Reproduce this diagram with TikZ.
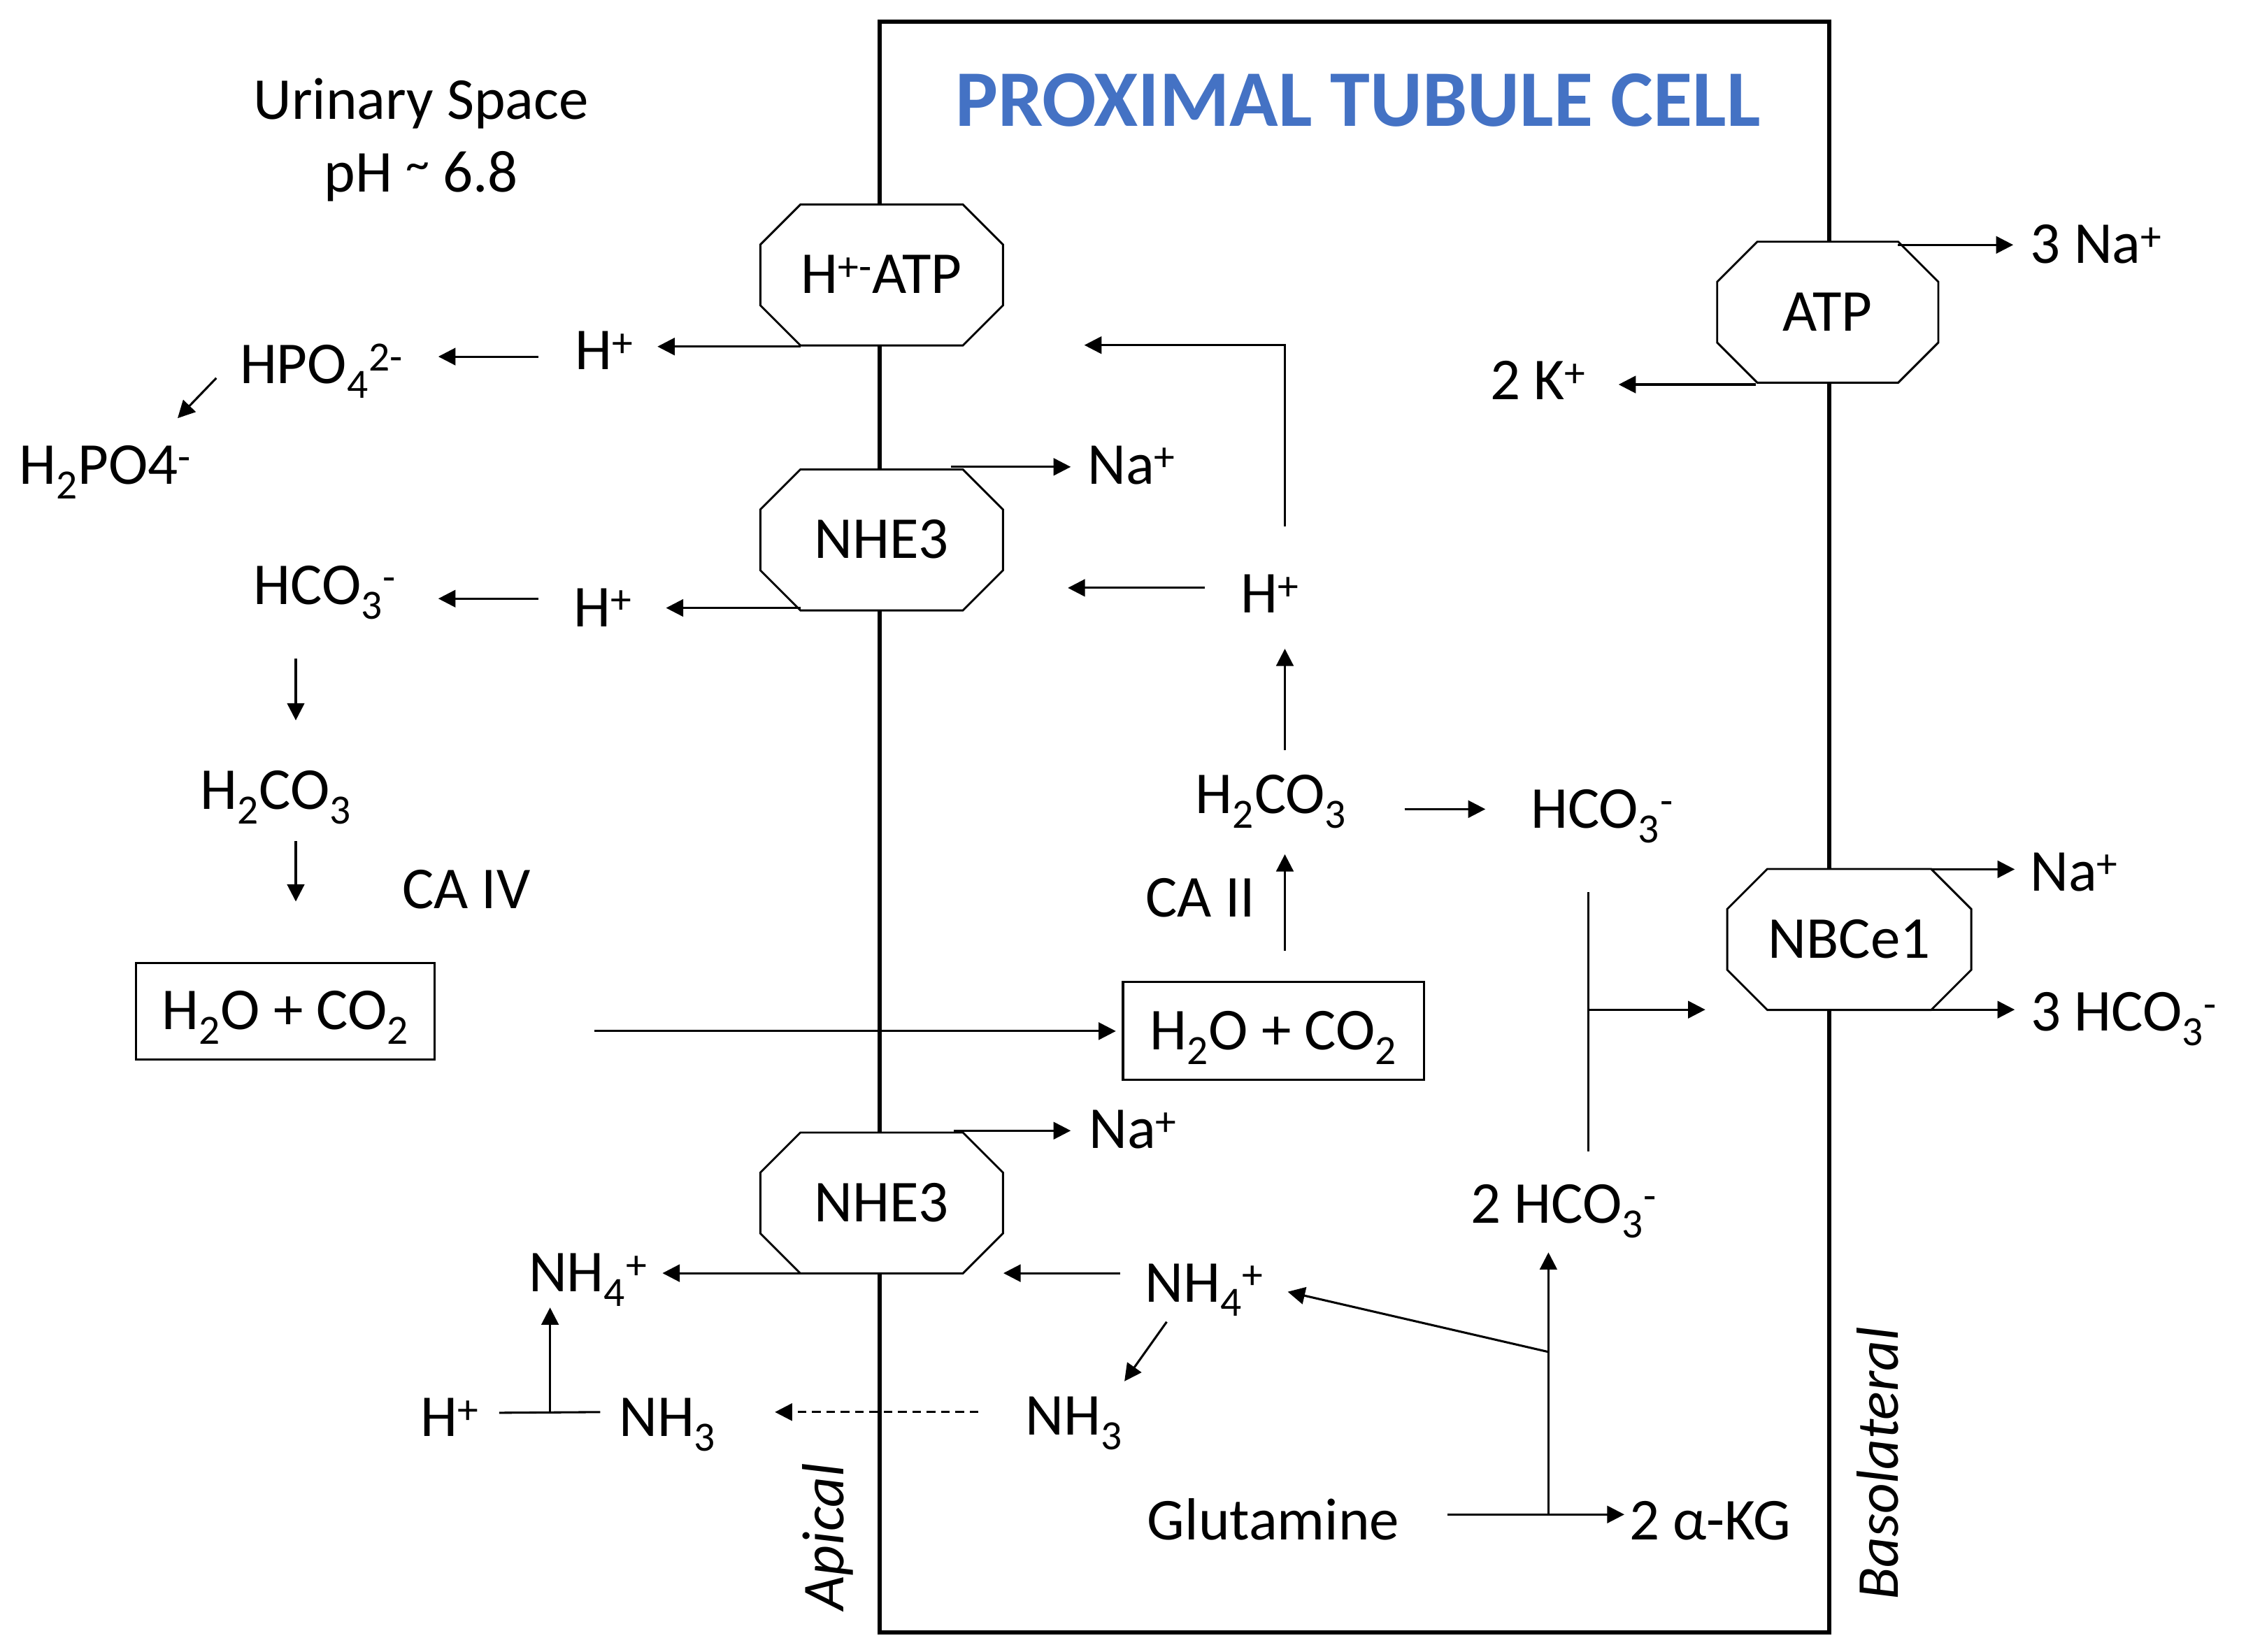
\documentclass[tikz,border=0pt]{standalone}
\usepackage{fontspec}
\usepackage{graphicx}
\setmainfont{Carlito}
\usetikzlibrary{arrows.meta,backgrounds}
\definecolor{titleblue}{HTML}{4472C4}
\newcommand{\chsub}[1]{\textsubscript{#1}}
\newcommand{\chsup}[1]{\textsuperscript{#1}}
\newcommand{\hightilde}{\raisebox{0.2em}{\scalebox{0.8}{\textasciitilde}}}
\begin{document}
\begin{tikzpicture}[x=1pt,y=-1pt,
  lab/.style={font=\fontsize{41.5}{50}\selectfont, inner sep=0pt},
  bl/.style={lab, anchor=base},
  arr/.style={line width=1.5pt, -{Triangle[length=12pt,width=12pt]}},
  ln/.style={line width=1.5pt},
  dsh/.style={line width=1.5pt, dash pattern=on 6pt off 4pt, -{Triangle[length=12pt,width=12pt]}},
  pump/.style={lab, rectangle, minimum height=98pt, text height=26pt, text depth=0pt},
  pumpline/.style={draw=black, fill=white, line width=1.4pt},
  cell/.style={draw=black, line width=3pt},
  rbox/.style={lab, draw=black, line width=1.5pt, text height=26pt, text depth=0pt}]
\useasboundingbox (0,0) rectangle (1568,1153.5);

% ---------- texts ----------
\node[bl] (ur) at (294,83) {Urinary Space};
\node[bl] (ph) at (294,134) {pH \hightilde{} 6.8};
\node[lab, anchor=base, font=\fontsize{56}{66}\selectfont\bfseries, text=titleblue] (title) at (948,88) {PROXIMAL TUBULE CELL};

\node[pump, minimum width=169pt] (hatp) at (615.5,192) {H\chsup{+-}ATP};
\node[pump, minimum width=169pt] (nhea) at (615.5,377) {NHE3};
\node[pump, minimum width=169pt] (nheb) at (615.5,840) {NHE3};
\node[pump, minimum width=154pt] (atp) at (1276,218) {ATP};
\node[pump, minimum width=170pt] (nbc) at (1291,656) {NBCe1};

\node[bl] (hpa) at (422,258) {H\chsup{+}};
\node[bl] (hpo) at (224.5,268) {HPO\chsub{4}\chsup{2-}};
\node[bl] (hppo) at (73.5,338) {H\chsub{2}PO4\chsup{-}};
\node[bl] (naa) at (790,338) {Na\chsup{+}};
\node[bl] (hcoo) at (227,422) {HCO\chsub{3}\chsup{-}};
\node[bl] (hpb) at (421,437.5) {H\chsup{+}};
\node[bl] (hpc) at (886.5,428) {H\chsup{+}};
\node[bl] (hcao) at (192.5,565) {H\chsub{2}CO\chsub{3}};
\node[bl] (caiv) at (325.5,634.5) {CA IV};
\node[rbox, minimum width=208.5pt, minimum height=67.5pt] (boxl) at (199.25,706) {H\chsub{2}O + CO\chsub{2}};
\node[rbox, minimum width=210pt, minimum height=68.5pt] (boxr) at (889,719.75) {H\chsub{2}O + CO\chsub{2}};
\node[bl] (hcai) at (887.5,568) {H\chsub{2}CO\chsub{3}};
\node[bl] (hcoi) at (1118.5,578) {HCO\chsub{3}\chsup{-}};
\node[bl] (caii) at (838,640) {CA II};
\node[bl] (na3) at (1463.5,184) {3 Na\chsup{+}};
\node[bl] (k2) at (1074,279) {2 K\chsup{+}};
\node[bl] (nab) at (1448,622) {Na\chsup{+}};
\node[bl] (hco3) at (1483,720) {3 HCO\chsub{3}\chsup{-}};
\node[bl] (nac) at (791,802) {Na\chsup{+}};
\node[bl] (nh4o) at (410.5,902) {NH\chsub{4}\chsup{+}};
\node[bl] (nh4i) at (841,909) {NH\chsub{4}\chsup{+}};
\node[bl] (nh3o) at (466,1003) {NH\chsub{3}};
\node[bl] (hpd) at (314,1003) {H\chsup{+}};
\node[bl] (nh3i) at (750,1002) {NH\chsub{3}};
\node[bl] (hco2) at (1092,854) {2 HCO\chsub{3}\chsup{-}};
\node[bl] (glu) at (889,1075) {Glutamine};
\node[bl] (akg) at (1194,1075) {2 α-KG};
\node[lab, rotate=90, font=\fontsize{41.5}{50}\selectfont\itshape] (apical) at (578,1073) {Apical};
\node[lab, rotate=90, font=\fontsize{41.5}{50}\selectfont\itshape] (baso) at (1311,1022) {Basolateral};

% ---------- membrane and pumps ----------
\coordinate (cnw) at (614,15);
\coordinate (cse) at (1277,1140);
\begin{pgfonlayer}{background}
\draw[cell] (cnw) rectangle (cse);
\foreach \p in {hatp,nhea,nheb,atp,nbc}{
  \filldraw[pumpline] ([xshift=28pt]\p.north west) -- ([xshift=-28pt]\p.north east)
    -- ([yshift=-28pt]\p.north east) -- ([yshift=28pt]\p.south east)
    -- ([xshift=-28pt]\p.south east) -- ([xshift=28pt]\p.south west)
    -- ([yshift=28pt]\p.south west) -- ([yshift=-28pt]\p.north west) -- cycle;}
\end{pgfonlayer}

% ---------- connector end points ----------
\coordinate (a1s) at (559,242);   \coordinate (a1e) at (459,242);
\coordinate (a2s) at (376,249);   \coordinate (a2e) at (306,249);
\coordinate (a3s) at (151,264);   \coordinate (a3e) at (124,292);
\coordinate (a4s) at (897,367.5); \coordinate (a4m) at (897,241); \coordinate (a4e) at (757,241);
\coordinate (a5s) at (664,326);   \coordinate (a5e) at (747.5,326);
\coordinate (a6s) at (559,424.5); \coordinate (a6e) at (465,424.5);
\coordinate (a7s) at (376,418);   \coordinate (a7e) at (306,418);
\coordinate (a8s) at (841,410.5); \coordinate (a8e) at (745.5,410.5);
\coordinate (a9s) at (206.5,460); \coordinate (a9e) at (206.5,503);
\coordinate (a10s) at (206.5,587.5); \coordinate (a10e) at (206.5,629.5);
\coordinate (a11s) at (415,720);  \coordinate (a11e) at (779,720);
\coordinate (a12s) at (897,664);  \coordinate (a12e) at (897,596.5);
\coordinate (a13s) at (897,524);  \coordinate (a13e) at (897,453);
\coordinate (a14s) at (980.5,565); \coordinate (a14e) at (1037,565);
\coordinate (a15t) at (1109,623); \coordinate (a15b) at (1109,804);
\coordinate (a15m) at (1109,705); \coordinate (a15e) at (1190.5,705);
\coordinate (a16s) at (1348.5,607); \coordinate (a16e) at (1406.5,607);
\coordinate (a17s) at (1348.5,705); \coordinate (a17e) at (1406.5,705);
\coordinate (a18s) at (1325,171); \coordinate (a18e) at (1405.5,171);
\coordinate (a19s) at (1226,268.5); \coordinate (a19e) at (1130,268.5);
\coordinate (a20s) at (666,789.5); \coordinate (a20e) at (747.5,789.5);
\coordinate (a21s) at (559,889);  \coordinate (a21e) at (462.5,889);
\coordinate (a22s) at (782,889);  \coordinate (a22e) at (700.5,889);
\coordinate (a23s) at (814.5,923); \coordinate (a23e) at (785,964.5);
\coordinate (a24s) at (683,986);  \coordinate (a24e) at (541,986);
\coordinate (a25l) at (348.5,986.5); \coordinate (a25r) at (419,986);
\coordinate (a25s) at (384,986.5); \coordinate (a25e) at (384,913);
\coordinate (a26s) at (1010.5,1057.5); \coordinate (a26e) at (1134,1057.5);
\coordinate (a27s) at (1081,1057.5); \coordinate (a27e) at (1081,874.5);
\coordinate (a28s) at (1081,944); \coordinate (a28e) at (899,902);

% ---------- connectors ----------
\draw[arr] (a1s) -- (a1e);
\draw[arr] (a2s) -- (a2e);
\draw[arr] (a3s) -- (a3e);
\draw[arr] (a4s) -- (a4m) -- (a4e);
\draw[arr] (a5s) -- (a5e);
\draw[arr] (a6s) -- (a6e);
\draw[arr] (a7s) -- (a7e);
\draw[arr] (a8s) -- (a8e);
\draw[arr] (a9s) -- (a9e);
\draw[arr] (a10s) -- (a10e);
\draw[arr] (a11s) -- (a11e);
\draw[arr] (a12s) -- (a12e);
\draw[arr] (a13s) -- (a13e);
\draw[arr] (a14s) -- (a14e);
\draw[ln] (a15t) -- (a15b);
\draw[arr] (a15m) -- (a15e);
\draw[arr] (a16s) -- (a16e);
\draw[arr] (a17s) -- (a17e);
\draw[arr] (a18s) -- (a18e);
\draw[arr] (a19s) -- (a19e);
\draw[arr] (a20s) -- (a20e);
\draw[arr] (a21s) -- (a21e);
\draw[arr] (a22s) -- (a22e);
\draw[arr] (a23s) -- (a23e);
\draw[dsh] (a24s) -- (a24e);
\draw[ln] (a25l) -- (a25r);
\draw[arr] (a25s) -- (a25e);
\draw[arr] (a26s) -- (a26e);
\draw[arr] (a27s) -- (a27e);
\draw[arr] (a28s) -- (a28e);
\end{tikzpicture}
\end{document}
